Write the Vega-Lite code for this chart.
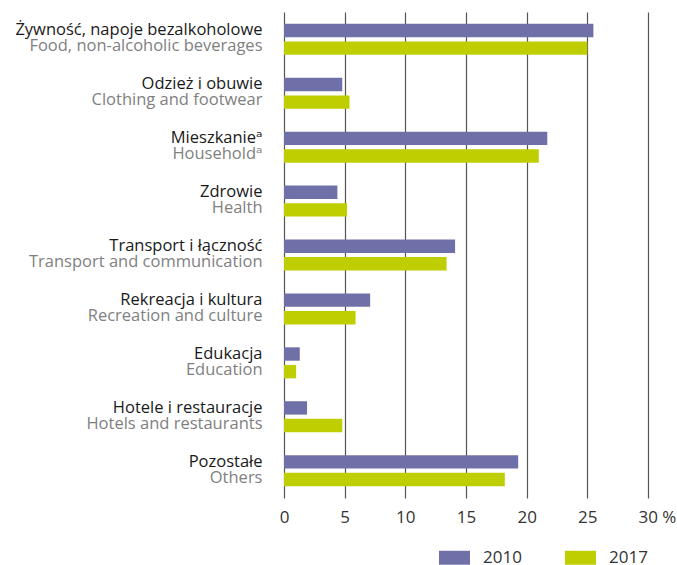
{
  "$schema": "https://vega.github.io/schema/vega-lite/v6.json",
  "width": 364,
  "height": 486,
  "autosize": {"type": "none"},
  "padding": {"left": 284, "top": 12, "right": 29, "bottom": 67},
  "config": {"view": {"stroke": null}, "font": "'Open Sans', 'DejaVu Sans', sans-serif"},
  "data": {
    "values": [
      {"cat": "Żywność, napoje bezalkoholowe|Food, non-alcoholic beverages", "year": "2010", "value": 25.5},
      {"cat": "Żywność, napoje bezalkoholowe|Food, non-alcoholic beverages", "year": "2017", "value": 25.0},
      {"cat": "Odzież i obuwie|Clothing and footwear", "year": "2010", "value": 4.8},
      {"cat": "Odzież i obuwie|Clothing and footwear", "year": "2017", "value": 5.4},
      {"cat": "Mieszkanieᵃ|Householdᵃ", "year": "2010", "value": 21.7},
      {"cat": "Mieszkanieᵃ|Householdᵃ", "year": "2017", "value": 21.0},
      {"cat": "Zdrowie|Health", "year": "2010", "value": 4.4},
      {"cat": "Zdrowie|Health", "year": "2017", "value": 5.2},
      {"cat": "Transport i łączność|Transport and communication", "year": "2010", "value": 14.1},
      {"cat": "Transport i łączność|Transport and communication", "year": "2017", "value": 13.4},
      {"cat": "Rekreacja i kultura|Recreation and culture", "year": "2010", "value": 7.1},
      {"cat": "Rekreacja i kultura|Recreation and culture", "year": "2017", "value": 5.9},
      {"cat": "Edukacja|Education", "year": "2010", "value": 1.3},
      {"cat": "Edukacja|Education", "year": "2017", "value": 1.0},
      {"cat": "Hotele i restauracje|Hotels and restaurants", "year": "2010", "value": 1.9},
      {"cat": "Hotele i restauracje|Hotels and restaurants", "year": "2017", "value": 4.8},
      {"cat": "Pozostałe|Others", "year": "2010", "value": 19.3},
      {"cat": "Pozostałe|Others", "year": "2017", "value": 18.2}
    ]
  },
  "encoding": {
    "x": {
      "field": "value",
      "type": "quantitative",
      "scale": {"domain": [0, 30], "nice": false},
      "axis": {
        "orient": "bottom",
        "values": [0, 5, 10, 15, 20, 25, 30],
        "grid": true,
        "gridColor": "#555555",
        "gridWidth": 1.2,
        "domain": false,
        "ticks": false,
        "title": null,
        "labelFontSize": 17,
        "labelColor": "#333333",
        "labelPadding": 24,
        "labelBaseline": "alphabetic",
        "labelExpr": "datum.value == 30 ? '30 %' : datum.label",
        "labelAlign": {"condition": {"test": "datum.value == 30", "value": "left"}, "value": "center"},
        "labelOffset": {"condition": {"test": "datum.value == 30", "value": -10}, "value": 0},
        "labelOverlap": false,
        "labelBound": false,
        "labelFlush": false
      }
    },
    "yOffset": {
      "field": "year",
      "type": "nominal",
      "scale": {"paddingInner": 0.24, "paddingOuter": 0}
    },
    "color": {
      "field": "year",
      "type": "nominal",
      "scale": {"domain": ["2010", "2017"], "range": ["#7070a9", "#bfce00"]},
      "legend": {
        "orient": "none",
        "legendX": 155,
        "legendY": 530,
        "direction": "horizontal",
        "title": null,
        "symbolType": "M-1,-0.45H1V0.45H-1Z",
        "symbolSize": 961,
        "symbolStrokeWidth": 0,
        "labelFontSize": 17,
        "labelColor": "#333333",
        "labelOffset": 13,
        "columnPadding": 43,
        "padding": 0
      }
    }
  },
  "layer": [
    {
      "transform": [{"filter": "datum.year == '2010'"}],
      "mark": "bar",
      "encoding": {
        "y": {
          "field": "cat",
          "type": "nominal",
          "sort": null,
          "scale": {"paddingInner": 0.425, "paddingOuter": 0.22},
          "axis": {
            "orient": "left",
            "domain": false,
            "ticks": false,
            "grid": false,
            "title": null,
            "labelExpr": "split(datum.label, '|')[0]",
            "labelColor": "#1a1a1a",
            "labelFontSize": 16.5,
            "labelPadding": 22,
            "labelBaseline": "alphabetic",
            "labelOffset": -4,
            "labelLimit": 0
          }
        }
      }
    },
    {
      "transform": [{"filter": "datum.year == '2017'"}],
      "mark": "bar",
      "encoding": {
        "y": {
          "field": "cat",
          "type": "nominal",
          "sort": null,
          "scale": {"paddingInner": 0.425, "paddingOuter": 0.22},
          "axis": {
            "orient": "left",
            "domain": false,
            "ticks": false,
            "grid": false,
            "title": null,
            "labelExpr": "split(datum.label, '|')[1]",
            "labelColor": "#7f7f7f",
            "labelFontSize": 16.5,
            "labelPadding": 22,
            "labelBaseline": "alphabetic",
            "labelOffset": 12,
            "labelLimit": 0
          }
        }
      }
    }
  ],
  "resolve": {"axis": {"y": "independent"}}
}
